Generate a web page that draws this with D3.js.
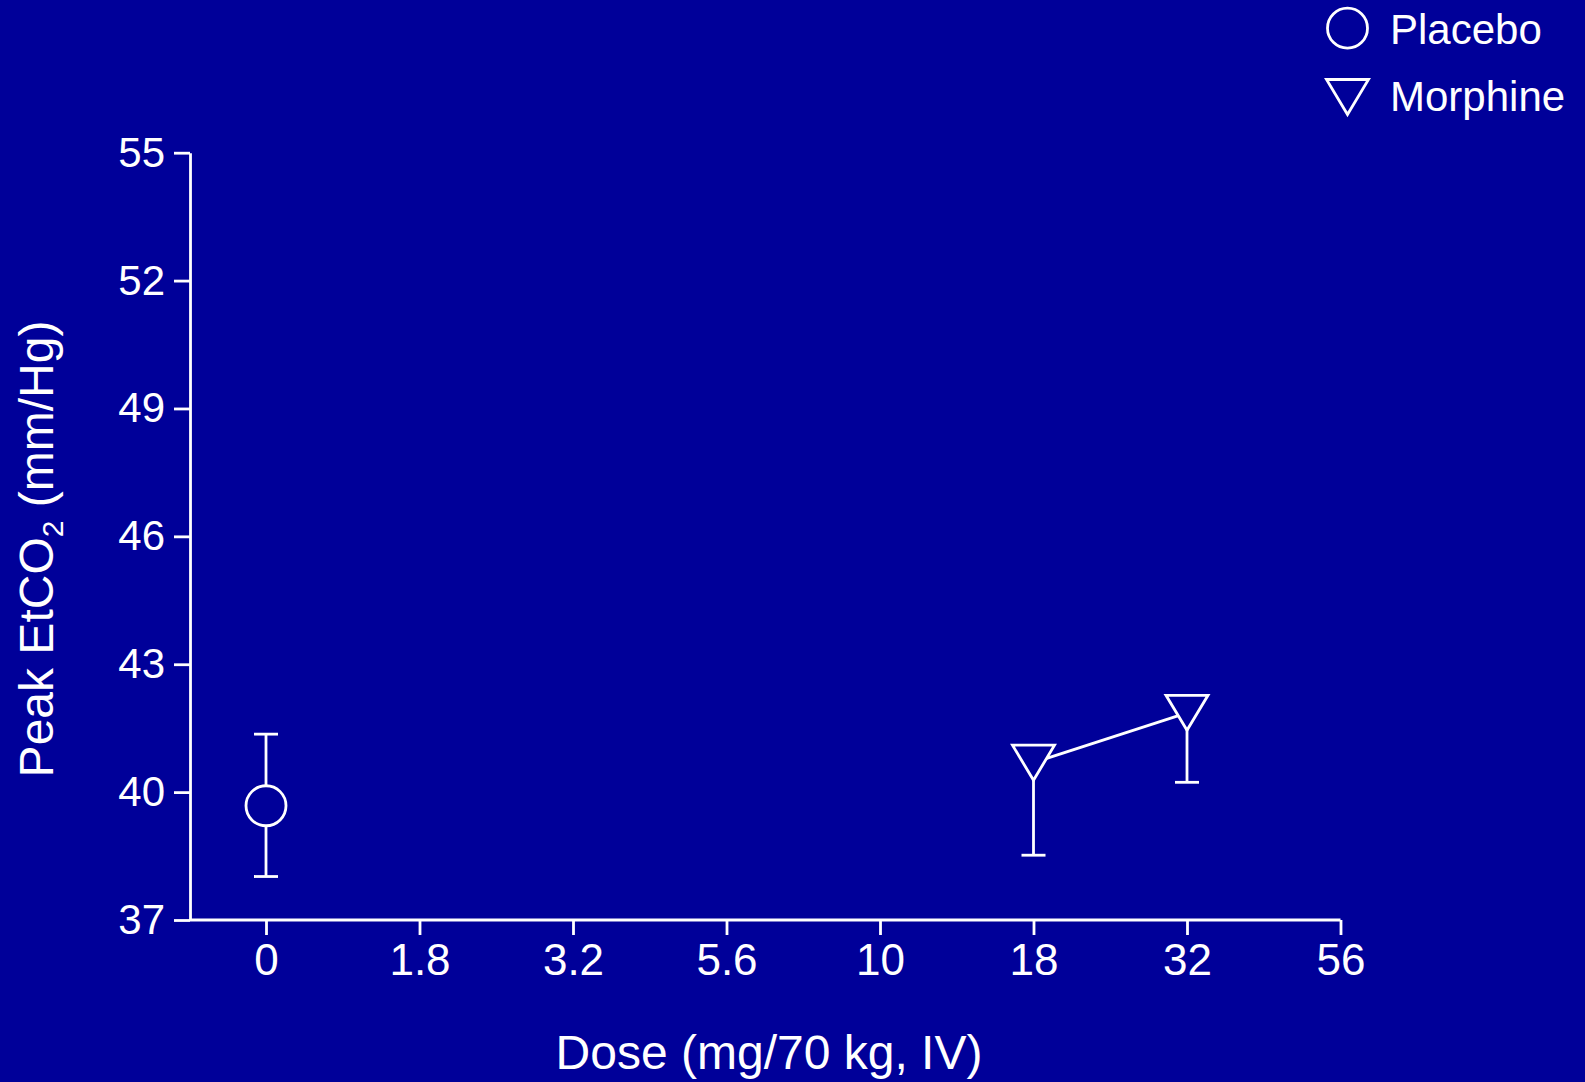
<!DOCTYPE html>
<html>
<head>
<meta charset="utf-8">
<script src="https://cdn.jsdelivr.net/npm/d3@7"></script>
<style>
  html, body { margin: 0; padding: 0; background: #000099; }
  svg { display: block; font-family: "Liberation Sans", Arial, sans-serif; }
</style>
</head>
<body>
<svg width="1585" height="1082"></svg>
<script>
// dose categories on the x axis (log-spaced, shown as equal steps)
var doseLabels = ["0", "1.8", "3.2", "5.6", "10", "18", "32", "56"];
var yTicks = [37, 40, 43, 46, 49, 52, 55];

// placebo
var placeboDose = ["0"];
var placeboMean = [39.68];
var placeboLow = [38.02];
var placeboHigh = [41.36];

// morphine
var morphineDose = ["18", "32"];
var morphineMean = [40.69, 41.86];
var morphineLow = [38.52, 40.23];

var bg = "#000099",
    fg = "#ffffff",
    sw = 2.8;

var svg = d3.select("svg");

var x = d3.scalePoint()
    .domain(doseLabels)
    .range([266, 1340.5]);

var y = d3.scaleLinear()
    .domain([37, 55])
    .range([920, 152.7]);

var axisLeftX = 190;

// y axis
var gy = svg.append("g")
    .attr("transform", "translate(" + axisLeftX + ",0)")
    .call(d3.axisLeft(y).tickValues(yTicks).tickSize(16).tickSizeOuter(0).tickPadding(9));

// x axis
var gx = svg.append("g")
    .attr("transform", "translate(0," + y(37) + ")")
    .call(d3.axisBottom(x).tickSize(15).tickSizeOuter(0).tickPadding(9));
gx.select(".domain").remove();
gx.append("line")
    .attr("x1", axisLeftX)
    .attr("x2", x("56"))
    .attr("y1", 0)
    .attr("y2", 0);

svg.selectAll(".domain, .tick line, g > line")
    .attr("stroke", fg)
    .attr("stroke-width", sw);

gy.selectAll(".tick text")
    .attr("fill", fg)
    .attr("font-size", 42)
    .attr("font-family", "Liberation Sans, Arial, sans-serif");

gx.selectAll(".tick text")
    .attr("fill", fg)
    .attr("font-size", 44)
    .attr("font-family", "Liberation Sans, Arial, sans-serif");

// axis titles
svg.append("text")
    .attr("x", 769)
    .attr("y", 1069)
    .attr("text-anchor", "middle")
    .attr("fill", fg)
    .attr("font-size", 48)
    .text("Dose (mg/70 kg, IV)");

var yt = svg.append("text")
    .attr("transform", "translate(53,549) rotate(-90)")
    .attr("text-anchor", "middle")
    .attr("fill", fg)
    .attr("font-size", 48);
yt.append("tspan").text("Peak EtCO");
yt.append("tspan").attr("font-size", 30).attr("dy", 10).text("2");
yt.append("tspan").attr("dy", -10).text(" (mm/Hg)");

var tri = "M-21,-17.5L21,-17.5L0,17.5Z";

// error bars
function errBar(xv, y0, y1) {
  svg.append("line")
      .attr("x1", xv).attr("x2", xv)
      .attr("y1", y(y0)).attr("y2", y(y1))
      .attr("stroke", fg).attr("stroke-width", sw);
  svg.append("line")
      .attr("x1", xv - 12).attr("x2", xv + 12)
      .attr("y1", y(y1)).attr("y2", y(y1))
      .attr("stroke", fg).attr("stroke-width", sw);
}

placeboDose.forEach(function(d, i) {
  errBar(x(d), placeboMean[i], placeboHigh[i]);
  errBar(x(d), placeboMean[i], placeboLow[i]);
});
morphineDose.forEach(function(d, i) {
  errBar(x(d), morphineMean[i], morphineLow[i]);
});

// morphine line
var line = d3.line()
    .x(function(d, i) { return x(morphineDose[i]); })
    .y(function(d) { return y(d); });

svg.append("path")
    .datum(morphineMean)
    .attr("fill", "none")
    .attr("stroke", fg)
    .attr("stroke-width", sw)
    .attr("d", line);

// symbols
svg.selectAll(".placebo")
    .data(placeboMean)
  .enter().append("circle")
    .attr("cx", function(d, i) { return x(placeboDose[i]); })
    .attr("cy", function(d) { return y(d); })
    .attr("r", 20)
    .attr("fill", bg)
    .attr("stroke", fg)
    .attr("stroke-width", sw);

svg.selectAll(".morphine")
    .data(morphineMean)
  .enter().append("path")
    .attr("transform", function(d, i) { return "translate(" + x(morphineDose[i]) + "," + y(d) + ")"; })
    .attr("d", tri)
    .attr("fill", bg)
    .attr("stroke", fg)
    .attr("stroke-width", sw)
    .attr("stroke-linejoin", "miter");

// legend
var legend = svg.append("g");
legend.append("circle")
    .attr("cx", 1347.5).attr("cy", 28.2).attr("r", 20)
    .attr("fill", "none").attr("stroke", fg).attr("stroke-width", sw);
legend.append("path")
    .attr("transform", "translate(1347.5,97)")
    .attr("d", tri)
    .attr("fill", "none").attr("stroke", fg).attr("stroke-width", sw);
legend.append("text")
    .attr("x", 1390).attr("y", 43.5)
    .attr("fill", fg).attr("font-size", 42)
    .text("Placebo");
legend.append("text")
    .attr("x", 1390).attr("y", 111)
    .attr("fill", fg).attr("font-size", 42)
    .text("Morphine");
</script>
</body>
</html>
